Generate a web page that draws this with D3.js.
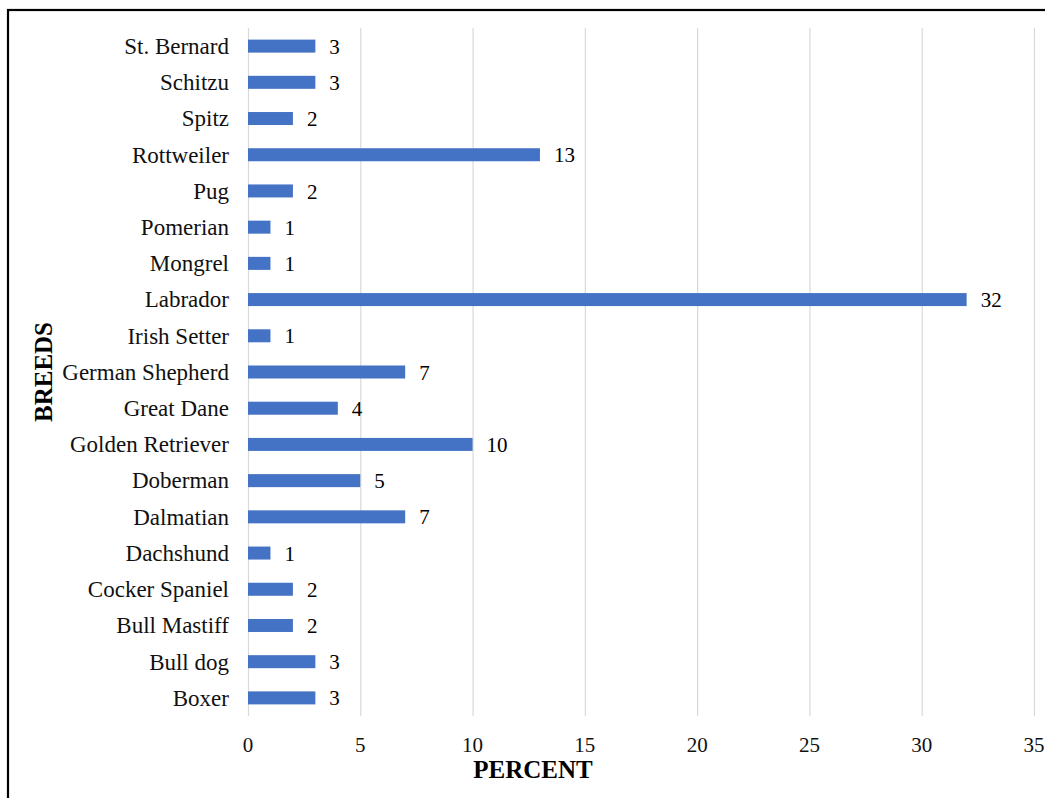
<!DOCTYPE html>
<html><head><meta charset="utf-8">
<script src="https://cdn.jsdelivr.net/npm/d3@7"></script>
<style>body{margin:0;background:#fff}svg{display:block}</style>
</head><body>
<script>
const categories = ["St. Bernard","Schitzu","Spitz","Rottweiler","Pug","Pomerian","Mongrel","Labrador","Irish Setter","German Shepherd","Great Dane","Golden Retriever","Doberman","Dalmatian","Dachshund","Cocker Spaniel","Bull Mastiff","Bull dog","Boxer"];
const values = [3,3,2,13,2,1,1,32,1,7,4,10,5,7,1,2,2,3,3];
const xTicks = [0,5,10,15,20,25,30,35];
const xTitle = "PERCENT";
const yTitle = "BREEDS";

const W = 1045, H = 798;
const font = "'Liberation Serif','Times New Roman',serif";
const svg = d3.select("body").append("svg").attr("width", W).attr("height", H);

svg.append("rect").attr("x", 8).attr("y", 10).attr("width", W + 10).attr("height", H + 10)
  .attr("fill", "none").attr("stroke", "#000").attr("stroke-width", 2.2);

const x = d3.scaleLinear().domain([0, 35]).range([248, 1034]);
const y = d3.scaleBand().domain(categories).range([28, 716]).paddingInner(0.64).paddingOuter(0.32);

svg.append("g").selectAll("line").data(xTicks).join("line")
  .attr("x1", d => x(d) + 0.5).attr("x2", d => x(d) + 0.5)
  .attr("y1", 28).attr("y2", 716).attr("stroke", "#d9d9d9").attr("stroke-width", 1.2);

svg.append("g").selectAll("rect").data(values).join("rect")
  .attr("x", x(0)).attr("y", (d, i) => y(categories[i]) + y.bandwidth() / 2 - 6.5)
  .attr("width", d => x(d) - x(0)).attr("height", 13).attr("fill", "#4472C4");

svg.append("g").selectAll("text").data(values).join("text")
  .attr("x", d => x(d) + 14).attr("y", (d, i) => y(categories[i]) + y.bandwidth() / 2)
  .attr("dy", "0.36em").attr("font-family", font).attr("font-size", 21).attr("fill", "#000")
  .text(d => d);

svg.append("g").selectAll("text").data(categories).join("text")
  .attr("x", 229).attr("y", d => y(d) + y.bandwidth() / 2).attr("dy", "0.34em")
  .attr("text-anchor", "end").attr("font-family", font).attr("font-size", 23).attr("fill", "#111")
  .text(d => d);

svg.append("g").selectAll("text").data(xTicks).join("text")
  .attr("x", d => x(d)).attr("y", 752).attr("text-anchor", "middle")
  .attr("font-family", font).attr("font-size", 21).attr("fill", "#111").text(d => d);

svg.append("text").attr("x", 533).attr("y", 778).attr("text-anchor", "middle")
  .attr("font-family", font).attr("font-size", 25).attr("font-weight", "bold").text(xTitle);

svg.append("text").attr("transform", "translate(52,372) rotate(-90)").attr("text-anchor", "middle")
  .attr("font-family", font).attr("font-size", 25).attr("font-weight", "bold").text(yTitle);
</script>
</body></html>
